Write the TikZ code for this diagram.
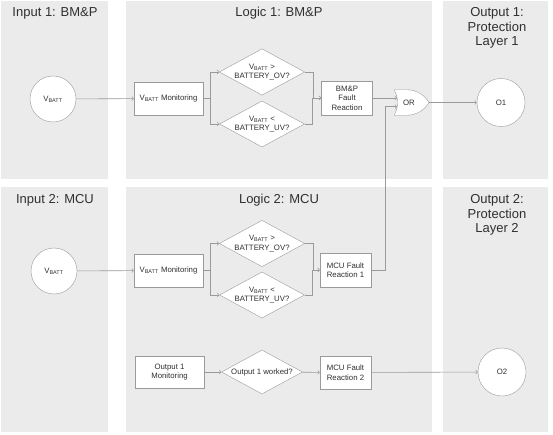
\documentclass[tikz,border=0pt]{standalone}
\usepackage{fontspec}
\setmainfont{Liberation Sans}
\usepackage{tikz}
\usetikzlibrary{shapes.geometric, shapes.gates.logic.US}
\definecolor{panelgray}{HTML}{EBEBEB}
\definecolor{linegray}{HTML}{9A9A9A}
\definecolor{textgray}{HTML}{303030}

\begin{document}
\begin{tikzpicture}[x = 1pt, y = -1pt,
  panel/.style = {fill = panelgray},
  title/.style = {font = \fontsize{13}{14.5}\selectfont, align = center, text = textgray},
  small/.style = {font = \fontsize{7.8}{9.5}\selectfont, text = textgray, align = center},
  box/.style = {small, draw = linegray, fill = white, minimum width = 69pt, minimum height = 33pt, inner sep = 1pt},
  fault/.style = {box, minimum width = 51pt, minimum height = 34pt},
  cond/.style = {small, draw = linegray, fill = white, diamond, aspect = 1.84, minimum width = 81pt, minimum height = 44pt, inner sep = 0pt},
  sig/.style = {small, draw = linegray, fill = white, circle, minimum size = 46pt, inner sep = 0pt},
  wire/.style = {draw = linegray, line width = 0.6pt},
  arr/.style = {wire, -to}]

\useasboundingbox (0, 0) rectangle (553, 435);

% panels
\fill[panel] (1, 1) rectangle (108, 179);
\fill[panel] (126, 1) rectangle (432, 179);
\fill[panel] (443, 1) rectangle (548, 179);
\fill[panel] (1, 187) rectangle (108, 432);
\fill[panel] (126, 187) rectangle (432, 432);
\fill[panel] (443, 187) rectangle (548, 432);

\node[title] at (55, 13) (tin1)   {Input 1: BM\&P};
\node[title] at (279, 13) (tlog1) {Logic 1: BM\&P};
\node[title] at (497, 28) (tout1) {Output 1:\\Protection\\Layer 1};
\node[title] at (55, 200) (tin2)  {Input 2: MCU};
\node[title] at (279, 200) (tlog2) {Logic 2: MCU};
\node[title] at (497, 215) (tout2) {Output 2:\\Protection\\Layer 2};

% row 1
\node[sig] at (53, 99) (vb1)      {V\textsubscript{BATT}};
\node[box] at (168.5, 98.5) (mon1) {V\textsubscript{BATT} Monitoring};
\node[cond] at (262, 72) (ov1)    {V\textsubscript{BATT} >\\BATTERY\_OV?};
\node[cond] at (262, 124) (uv1)   {V\textsubscript{BATT} <\\BATTERY\_UV?};
\node[fault] at (347, 98) (bmp)   {BM\&P\\Fault\\Reaction};
\node[or gate US, draw = linegray, fill = white, logic gate inputs = nn, logic gate input sep = 8.5pt,
      minimum width = 27pt, minimum height = 21pt, inner sep = 0pt, small] at (409, 102.5) (or) {OR};
\node[sig, minimum size = 48pt] at (501, 102.5) (o1) {O1};

% row 2
\node[sig] at (54, 271) (vb2)      {V\textsubscript{BATT}};
\node[box] at (168.5, 270.5) (mon2) {V\textsubscript{BATT} Monitoring};
\node[cond] at (262, 243.5) (ov2)  {V\textsubscript{BATT} >\\BATTERY\_OV?};
\node[cond] at (262, 295) (uv2)    {V\textsubscript{BATT} <\\BATTERY\_UV?};
\node[fault] at (345.5, 270) (fr1) {MCU Fault\\Reaction 1};

\node[box, minimum height = 32pt] at (169.5, 372) (omon) {Output 1\\Monitoring};
\node[cond] at (262, 372) (worked) {Output 1 worked?};
\node[fault, minimum height = 33pt] at (345.5, 372.5) (fr2) {MCU Fault\\Reaction 2};
\node[sig, minimum size = 48pt] at (502, 372) (o2) {O2};

% connectors, row 1
\draw[arr] (vb1) -- (mon1);
\draw[wire] (mon1.east) -- ++(7, 0) coordinate (sp1);
\draw[arr] (sp1) |- (ov1.west);
\draw[arr] (sp1) |- (uv1.west);
\draw[arr] (ov1.east) -- ++(8, 0) |- (bmp.west);
\draw[arr] (uv1.east) -- ++(8, 0) |- (bmp.west);
\draw[arr] (bmp.east) -- (bmp.east -| or.input 1);
\draw[arr] (or.output) -- (o1);

% connectors, row 2
\draw[arr] (vb2) -- (mon2);
\draw[wire] (mon2.east) -- ++(7, 0) coordinate (sp2);
\draw[arr] (sp2) |- (ov2.west);
\draw[arr] (sp2) |- (uv2.west);
\draw[arr] (ov2.east) -- ++(8, 0) |- (fr1.west);
\draw[arr] (uv2.east) -- ++(8, 0) |- (fr1.west);
\draw[arr] (fr1.east) -- ++(14, 0) |- (or.input 2);

\draw[arr] (omon) -- (worked);
\draw[arr] (worked) -- (fr2);
\draw[arr] (fr2) -- (o2);

\end{tikzpicture}
\end{document}
